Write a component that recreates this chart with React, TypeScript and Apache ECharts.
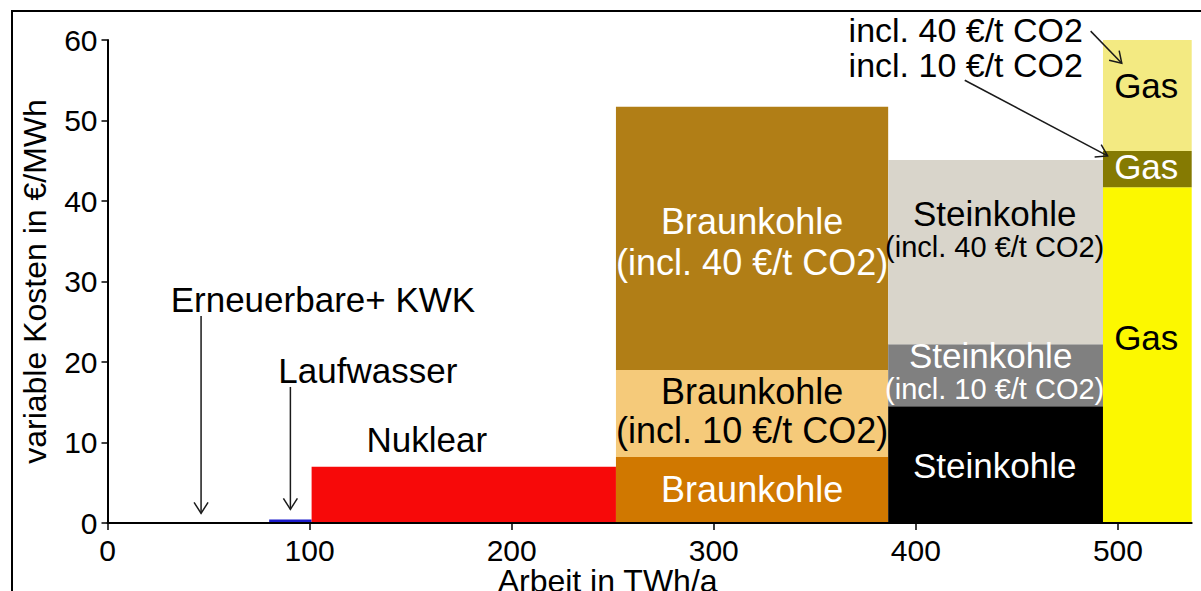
import React, { useEffect, useRef } from 'react';
import * as echarts from 'echarts';

const FONT = '"Liberation Sans", Arial, Helvetica, sans-serif';

// ---- Data: merit order (Arbeit in TWh/a vs. variable Kosten in €/MWh) ----
const plants = ['Erneuerbare+ KWK', 'Laufwasser', 'Nuklear', 'Braunkohle', 'Steinkohle', 'Gas'];
const workStart = [0, 80, 101, 251.6, 386.3, 492.6];
const workEnd = [80, 101, 251.6, 386.3, 492.6, 536.5];
const costBase = [0, 0.45, 7.0, 8.2, 14.5, 41.7];
const costCO2at10 = [0, 0.45, 7.0, 19.0, 22.2, 46.2];
const costCO2at40 = [0, 0.45, 7.0, 51.7, 45.1, 60.0];

const xTicks = [0, 100, 200, 300, 400, 500];
const yTicks = [0, 10, 20, 30, 40, 50, 60];

// ---- Styles ----
const baseColors = ['#000000', '#1b1bcc', '#f70909', '#d07800', '#000000', '#fcf800'];
const co2at10Colors = ['', '', '', '#f5ca7a', '#808080', '#857a02'];
const co2at40Colors = ['', '', '', '#b17e16', '#d9d5cb', '#f3ea82'];

// Label annotations (value coordinates)
const labelTexts = [
  'Braunkohle', '(incl. 40 €/t CO2)', 'Braunkohle', '(incl. 10 €/t CO2)', 'Braunkohle',
  'Steinkohle', '(incl. 40 €/t CO2)', 'Steinkohle', '(incl. 10 €/t CO2)', 'Steinkohle',
  'Gas', 'Gas', 'Gas',
  'Nuklear', 'Laufwasser', 'Erneuerbare+ KWK',
  'incl. 40 €/t CO2', 'incl. 10 €/t CO2',
];
const labelX = [319, 319, 319, 319, 319, 439, 439, 437, 439, 439, 514, 514, 514, 158, 128.8, 106.6, 424.7, 424.7];
const labelY = [37.4, 32.4, 16.3, 11.5, 4.2, 38.5, 34.3, 20.75, 16.65, 7.1, 54.4, 44.3, 23.0, 10.4, 18.9, 27.8, 61.2, 56.9];
const labelColor = ['#fff', '#fff', '#000', '#000', '#fff', '#000', '#000', '#fff', '#fff', '#fff', '#000', '#fff', '#000', '#000', '#000', '#000', '#000', '#000'];
const labelSize = [36, 36, 36, 36, 36, 35, 29, 35, 29, 35, 35, 35, 35, 35, 35, 35, 34, 34];

// Arrows (value coordinates: from -> to)
const arrowFrom = [[46.3, 25.7], [90.5, 16.9], [486.5, 61.1], [424.2, 55.0]];
const arrowTo = [[46.3, 1.2], [90.5, 1.7], [501.9, 57.1], [494.9, 45.6]];

type Band = { x0: number; x1: number; y0: number; y1: number; color: string };

function buildBands(): Band[] {
  const out: Band[] = [];
  plants.forEach((_, i) => {
    const s = workStart[i];
    const e = workEnd[i];
    if (costBase[i] > 0) out.push({ x0: s, x1: e, y0: 0, y1: costBase[i], color: baseColors[i] });
    if (costCO2at10[i] > costBase[i]) out.push({ x0: s, x1: e, y0: costBase[i], y1: costCO2at10[i], color: co2at10Colors[i] });
    if (costCO2at40[i] > costCO2at10[i]) out.push({ x0: s, x1: e, y0: costCO2at10[i], y1: costCO2at40[i], color: co2at40Colors[i] });
  });
  return out;
}

export default function App() {
  const ref = useRef<HTMLDivElement>(null);

  useEffect(() => {
    if (!ref.current) return;
    const chart = echarts.init(ref.current, undefined, { renderer: 'svg' });
    const bands = buildBands();

    const option: any = {
      animation: false,
      backgroundColor: '#ffffff',
      grid: { left: 107.5, right: 9.3, top: 40, bottom: 68, outerBoundsMode: 'none', containLabel: false },
      xAxis: {
        type: 'value',
        min: 0,
        max: 536.5,
        z: 10,
        name: 'Arbeit in TWh/a',
        nameLocation: 'middle',
        nameGap: 42,
        nameMoveOverlap: false,
        nameTextStyle: { fontSize: 32, fontFamily: FONT, color: '#000', padding: [0, 84, 0, 0] },
        axisLine: { lineStyle: { color: '#000', width: 2 } },
        axisTick: { show: true, length: 7, lineStyle: { color: '#000', width: 1.5 }, customValues: xTicks },
        axisLabel: { fontSize: 30, fontFamily: FONT, color: '#000', margin: 12, customValues: xTicks },
        splitLine: { show: false },
      },
      yAxis: {
        type: 'value',
        min: 0,
        max: 60,
        interval: 10,
        z: 10,
        name: 'variable Kosten in €/MWh',
        nameLocation: 'middle',
        nameGap: 57,
        nameMoveOverlap: false,
        nameTextStyle: { fontSize: 32, fontFamily: FONT, color: '#000' },
        axisLine: { show: true, lineStyle: { color: '#000', width: 2 } },
        axisTick: { show: true, length: 6, lineStyle: { color: '#000', width: 1.5 }, customValues: yTicks },
        axisLabel: { fontSize: 30, fontFamily: FONT, color: '#000', margin: 10, customValues: yTicks },
        splitLine: { show: false },
      },
      graphic: [
        {
          type: 'rect',
          z: 100,
          shape: { x: 12, y: 11, width: 1300, height: 700 },
          style: { fill: 'none', stroke: '#000', lineWidth: 2 },
        },
      ],
      series: [
        {
          type: 'custom',
          name: 'Kraftwerke',
          z: 2,
          encode: { x: [0, 1], y: [2, 3] },
          data: bands.map((b) => [b.x0, b.x1, b.y0, b.y1]),
          renderItem: (params: any, api: any) => {
            const tl = api.coord([api.value(0), api.value(3)]);
            const br = api.coord([api.value(1), api.value(2)]);
            return {
              type: 'rect',
              shape: { x: tl[0], y: tl[1], width: br[0] - tl[0], height: br[1] - tl[1] },
              style: { fill: bands[params.dataIndex].color },
            };
          },
        },
        {
          type: 'custom',
          name: 'Pfeile',
          z: 4,
          clip: false,
          encode: { x: [0, 2], y: [1, 3] },
          data: arrowFrom.map((f, i) => [f[0], f[1], arrowTo[i][0], arrowTo[i][1]]),
          renderItem: (params: any, api: any) => {
            const a = api.coord([api.value(0), api.value(1)]);
            const b = api.coord([api.value(2), api.value(3)]);
            const dx = b[0] - a[0];
            const dy = b[1] - a[1];
            const len = Math.sqrt(dx * dx + dy * dy) || 1;
            const ux = dx / len;
            const uy = dy / len;
            const hl = 11;
            const hw = 7;
            const bx = b[0] - ux * hl;
            const by = b[1] - uy * hl;
            return {
              type: 'group',
              children: [
                {
                  type: 'line',
                  shape: { x1: a[0], y1: a[1], x2: b[0], y2: b[1] },
                  style: { stroke: '#1a1a1a', lineWidth: 1.5 },
                },
                {
                  type: 'polyline',
                  shape: {
                    points: [
                      [bx - uy * hw, by + ux * hw],
                      [b[0], b[1]],
                      [bx + uy * hw, by - ux * hw],
                    ],
                  },
                  style: { stroke: '#1a1a1a', lineWidth: 1.5, fill: 'none' },
                },
              ],
            };
          },
        },
        {
          type: 'custom',
          name: 'Beschriftung',
          z: 5,
          clip: false,
          encode: { x: 0, y: 1 },
          data: labelTexts.map((_, i) => [labelX[i], labelY[i]]),
          renderItem: (params: any, api: any) => {
            const i = params.dataIndex;
            const p = api.coord([api.value(0), api.value(1)]);
            return {
              type: 'text',
              x: p[0],
              y: p[1],
              style: {
                text: labelTexts[i],
                fill: labelColor[i],
                fontSize: labelSize[i],
                fontFamily: FONT,
                align: 'center',
                verticalAlign: 'middle',
              },
            };
          },
        },
      ],
    };

    chart.setOption(option);
    return () => chart.dispose();
  }, []);

  return (
    <div
      ref={ref}
      style={{ position: 'fixed', left: 0, top: 0, width: 1201, height: 591, background: '#fff' }}
    />
  );
}
